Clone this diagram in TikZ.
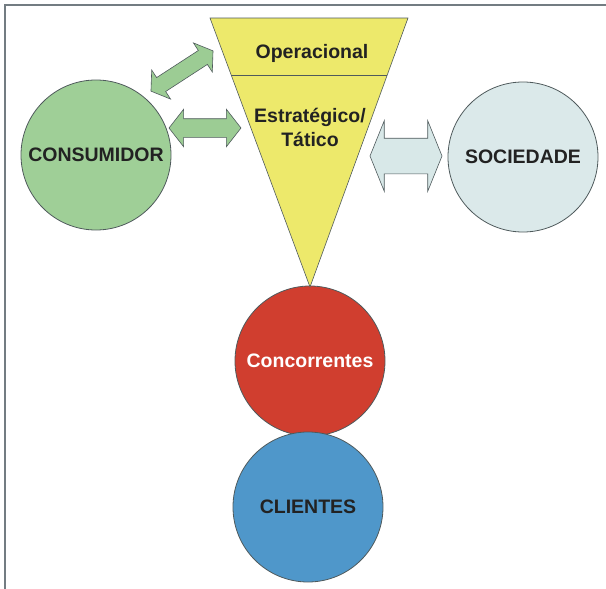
\documentclass[tikz,border=0pt]{standalone}
\usepackage{fontspec}
\setmainfont{Liberation Sans}
\usetikzlibrary{shapes.arrows, positioning, calc}

\definecolor{framegray}{HTML}{737C82}
\definecolor{edgegray}{HTML}{4F5A5C}
\definecolor{consgreen}{HTML}{9FCF97}
\definecolor{arrowgreen}{HTML}{9CCC94}
\definecolor{socblue}{HTML}{DBE9EA}
\definecolor{arrowblue}{HTML}{D8E8E8}
\definecolor{funnelyellow}{HTML}{EDE96B}
\definecolor{concred}{HTML}{D03E2F}
\definecolor{cliblue}{HTML}{4F97CA}
\definecolor{textdark}{HTML}{222222}

\begin{document}
\begin{tikzpicture}[x=1pt,y=-1pt,
		label font/.style={font=\bfseries\fontsize{19.5}{24}\selectfont,text=textdark},
		ring node/.style={circle,draw=edgegray,line width=0.8pt,inner sep=0pt,
			minimum size=150pt,label font},
		twin arrow/.style={double arrow,draw=edgegray,line width=0.6pt,inner xsep=0pt}]
		
		\useasboundingbox (0,0) rectangle (606,589);
		\draw[framegray,line width=2pt] (5,589) -- (5,5) -- (606,5);
		
		% circles
		\node[ring node,fill=consgreen] (consumidor) at (96,155) {CONSUMIDOR};
		\node[ring node,fill=socblue] (sociedade) at (523,157) {SOCIEDADE};
		\node[ring node,fill=concred,text=white] (concorrentes) at (310,361) {Concorrentes};
		\node[ring node,fill=cliblue] (clientes) at (308,507) {CLIENTES};
		
		% funnel
		\coordinate (tl) at (210,18);
		\coordinate (tr) at (408,18);
		\coordinate (apex) at (310,287);
		\draw[edgegray,line width=0.6pt,fill=funnelyellow] (tl) -- (tr) -- (apex) -- cycle;
		\draw[edgegray,line width=0.8pt] ($(tl)!0.212!(apex)$) -- ($(tr)!0.212!(apex)$);
		\node[label font] (operacional) at (312,53) {Operacional};
		\node[label font,align=center] (estrategico) at (310,127) {Estratégico/\\Tático};
		
		% double arrows
		\node[twin arrow,fill=arrowgreen,minimum height=74pt,inner ysep=8pt,
			double arrow head extend=9pt,double arrow tip angle=110,rotate=33] (diag) at (182,71) {};
		\node[twin arrow,fill=arrowgreen,minimum height=72pt,inner ysep=9pt,
			double arrow head extend=9.5pt,double arrow tip angle=104] (left) at (205,128) {};
		\node[twin arrow,fill=arrowblue,minimum height=72pt,inner ysep=17.5pt,
			double arrow head extend=17.5pt,double arrow tip angle=136] (right) at (406,156) {};
\end{tikzpicture}
\end{document}
